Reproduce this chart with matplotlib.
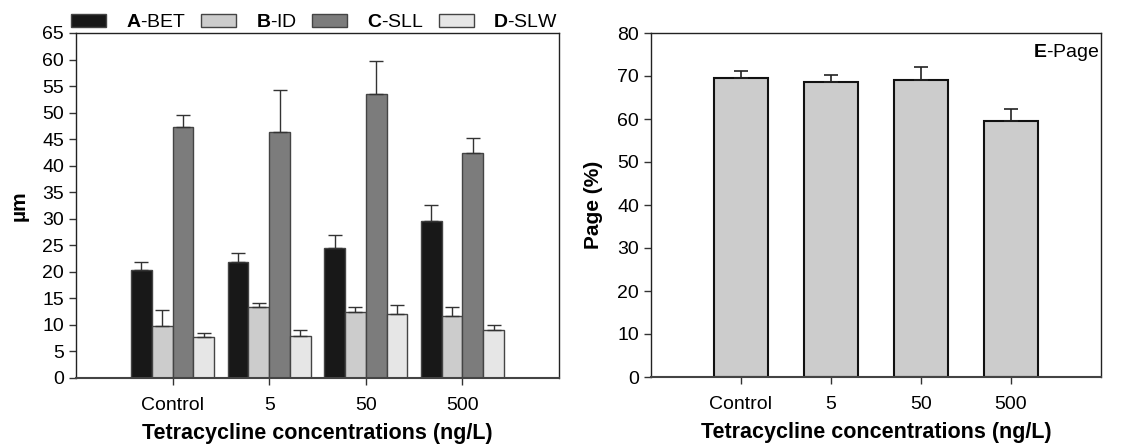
import matplotlib
matplotlib.use("Agg")
import matplotlib.pyplot as plt
import numpy as np

plt.rcParams['font.family'] = ['Liberation Sans', 'DejaVu Sans']
plt.rcParams['mathtext.fontset'] = 'custom'
plt.rcParams['mathtext.rm'] = 'Liberation Sans'
plt.rcParams['mathtext.bf'] = 'Liberation Sans:bold'

categories = ["Control", "5", "50", "500"]

bet = [20.3, 21.8, 24.5, 29.6]
bet_err = [1.5, 1.8, 2.4, 3.0]
idd = [9.8, 13.3, 12.4, 11.7]
idd_err = [3.0, 0.9, 0.9, 1.6]
sll = [47.3, 46.3, 53.6, 42.3]
sll_err = [2.2, 8.0, 6.1, 2.9]
slw = [7.7, 7.9, 12.1, 9.1]
slw_err = [0.8, 1.2, 1.7, 0.8]

page = [69.6, 68.7, 69.1, 59.6]
page_err = [1.6, 1.5, 3.0, 2.8]

series = [
    (bet, bet_err, '#181818', r'$\mathbf{A}$-BET'),
    (idd, idd_err, '#cccccc', r'$\mathbf{B}$-ID'),
    (sll, sll_err, '#7c7c7c', r'$\mathbf{C}$-SLL'),
    (slw, slw_err, '#e6e6e6', r'$\mathbf{D}$-SLW'),
]

fig = plt.figure(figsize=(11.42, 4.46), dpi=100)
ax1 = fig.add_axes([76/1142, 1-378/446, (559-76)/1142, (378-33)/446])
ax2 = fig.add_axes([651/1142, 1-377/446, (1101-651)/1142, (377-33)/446])

x = np.arange(len(categories))
w = 0.215
offsets = [-1.5, -0.5, 0.5, 1.5]
for (vals, errs, col, lab), off in zip(series, offsets):
    ax1.bar(x + off*w, vals, w, color=col, edgecolor='#444444', linewidth=1.0, label=lab,
            yerr=[np.zeros(len(errs)), errs], capsize=5,
            error_kw=dict(ecolor='#333333', elinewidth=1.0, capthick=1.0))

ax1.set_xlim(-1, 4)
ax1.set_ylim(0, 65)
ax1.set_yticks(np.arange(0, 66, 5))
ax1.set_xticks(x)
ax1.set_xticklabels(categories)
ax1.set_ylabel('µm', fontsize=15, fontweight='bold', labelpad=10)
ax1.set_xlabel('Tetracycline concentrations (ng/L)', fontsize=15.5, fontweight='bold', labelpad=6)
leg = ax1.legend(loc='lower left', bbox_to_anchor=(-0.01, 1.005), ncol=4, frameon=False,
                 fontsize=14, handlelength=1.8, handleheight=0.68, handletextpad=1.0,
                 columnspacing=0.8, borderaxespad=0, borderpad=0)

ax2.bar(x, page, 0.6, color='#cccccc', edgecolor='#111111', linewidth=1.5,
        yerr=[np.zeros(len(page_err)), page_err], capsize=5,
        error_kw=dict(ecolor='#222222', elinewidth=1.2, capthick=1.2))
ax2.set_xlim(-1, 4)
ax2.set_ylim(0, 80)
ax2.set_yticks(np.arange(0, 81, 10))
ax2.set_xticks(x)
ax2.set_xticklabels(categories)
ax2.set_ylabel('Page (%)', fontsize=15, fontweight='bold', labelpad=10)
ax2.set_xlabel('Tetracycline concentrations (ng/L)', fontsize=15.5, fontweight='bold', labelpad=6)
ax2.text(0.997, 0.975, r'$\mathbf{E}$-Page', transform=ax2.transAxes, ha='right', va='top', fontsize=14)

for ax in (ax1, ax2):
    ax.tick_params(axis='both', direction='out', length=5, width=1, labelsize=14, color='#333333')
    ax.tick_params(axis='x', pad=9)
    for s in ax.spines.values():
        s.set_linewidth(1.0)
        s.set_color('#222222')
    ax.spines['bottom'].set_linewidth(1.5)
    ax.spines['bottom'].set_color('#444444')

fig.savefig('out.png', dpi=100)
